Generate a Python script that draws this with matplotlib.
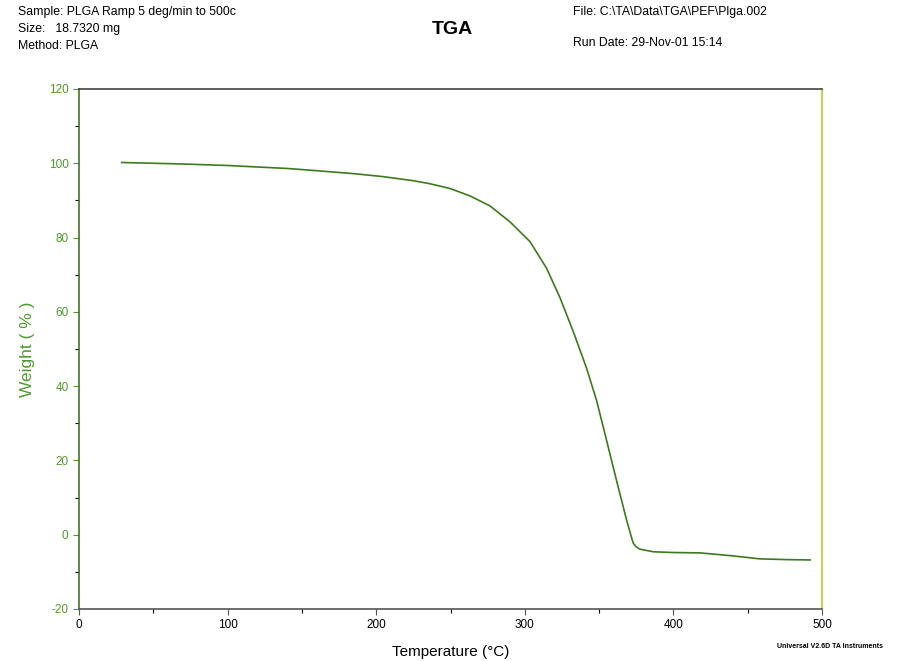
import matplotlib.pyplot as plt
import numpy as np

plt.rcParams['font.family'] = ['Liberation Sans', 'DejaVu Sans']
plt.rcParams['axes.unicode_minus'] = False

# TGA curve
temp = [28.7, 50, 70, 100, 115, 140, 160, 185, 204.6, 225, 236, 249.7, 263.2,
        276.6, 290.1, 303.5, 314.7, 323.7, 332.7, 341.6, 348.4, 355.1, 361.8,
        368.6, 371.5, 373.0, 375, 377.5, 386.5, 400, 418, 440, 458, 475, 492]
weight = [100.2, 100.0, 99.8, 99.4, 99.1, 98.6, 98.0, 97.2, 96.4, 95.3, 94.5,
          93.2, 91.2, 88.5, 84.2, 78.9, 71.7, 63.8, 54.6, 44.8, 36.0, 25.3,
          14.5, 3.8, -0.3, -2.3, -3.3, -3.9, -4.6, -4.8, -4.9, -5.7, -6.5,
          -6.7, -6.8]

x_ticks = [0, 100, 200, 300, 400, 500]
y_ticks = [-20, 0, 20, 40, 60, 80, 100, 120]

green = '#4f9a2c'

fig = plt.figure(figsize=(9.01, 6.61), dpi=100)
ax = fig.add_axes([0.0877, 0.0787, 0.8246, 0.7867])

ax.plot(temp, weight, color='#3d7a1e', lw=1.2)

ax.set_xlim(0, 500)
ax.set_ylim(-20, 120)
ax.set_xticks(x_ticks)
ax.set_yticks(y_ticks)
ax.set_xticks(np.arange(50, 500, 100), minor=True)
ax.set_yticks(np.arange(-10, 120, 20), minor=True)
ax.tick_params(axis='both', direction='out', length=4, width=0.8, labelsize=8.5)
ax.tick_params(axis='both', which='minor', direction='out', length=3, width=0.8)
ax.tick_params(axis='y', colors=green, labelcolor=green)
ax.tick_params(axis='x', colors='#555555', labelcolor='black')

ax.spines['left'].set_color('#3d7a1e')
ax.spines['right'].set_color('#b8d020')
ax.spines['top'].set_color('#444444')
ax.spines['bottom'].set_color('#555555')
for s in ax.spines.values():
    s.set_linewidth(1.2)

ax.set_ylabel('Weight ( % )', color=green, fontsize=12.5, labelpad=10)
ax.set_xlabel('Temperature (°C)', fontsize=11, labelpad=10)

# header block
hs = 8.8
fig.text(18 / 901, 1 - 12 / 661, 'Sample: PLGA Ramp 5 deg/min to 500c', fontsize=hs, va='center')
fig.text(18 / 901, 1 - 29 / 661, 'Size:   18.7320 mg', fontsize=hs, va='center')
fig.text(18 / 901, 1 - 46 / 661, 'Method: PLGA', fontsize=hs, va='center')
fig.text(452 / 901, 1 - 30 / 661, 'TGA', fontsize=14, fontweight='bold', ha='center', va='center')
fig.text(573 / 901, 1 - 12 / 661, 'File: C:\\TA\\Data\\TGA\\PEF\\Plga.002', fontsize=hs, va='center')
fig.text(573 / 901, 1 - 43 / 661, 'Run Date: 29-Nov-01 15:14', fontsize=hs, va='center')
fig.text(830 / 901, 1 - 647 / 661, 'Universal V2.6D TA Instruments', fontsize=5,
         fontweight='bold', ha='center', va='center')

fig.savefig('out.png', dpi=100)
